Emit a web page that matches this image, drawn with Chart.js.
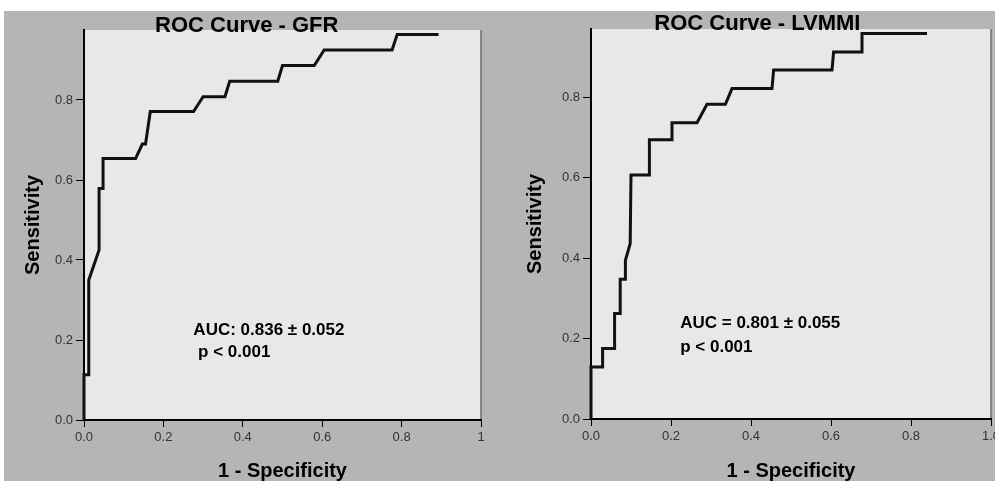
<!DOCTYPE html>
<html>
<head>
<meta charset="utf-8">
<script src="https://cdn.jsdelivr.net/npm/chart.js@4/dist/chart.umd.min.js"></script>
<style>
  html, body { margin: 0; padding: 0; background: #fff; overflow: hidden; }
  #panel { position: absolute; left: 4px; top: 11px; width: 991px; height: 470px; background: #b5b5b5; }
  .box { position: absolute; top: 11px; height: 470px; }
  #boxGfr { left: 4px; width: 491px; }
  #boxLvmmi { left: 495px; width: 500px; }
</style>
</head>
<body>
<div id="panel"></div>
<div class="box" id="boxGfr"><canvas id="gfr"></canvas></div>
<div class="box" id="boxLvmmi"><canvas id="lvmmi"></canvas></div>
<script>
// ROC curve - GFR (1 - specificity, sensitivity)
const gfrFpr = [0, 0, 0.012, 0.012, 0.038, 0.038, 0.048, 0.048, 0.13, 0.147, 0.155, 0.167, 0.276, 0.3, 0.355, 0.367, 0.488, 0.5, 0.58, 0.605, 0.776, 0.789, 0.893];
const gfrTpr = [0, 0.113, 0.113, 0.35, 0.425, 0.579, 0.579, 0.654, 0.654, 0.69, 0.69, 0.771, 0.771, 0.808, 0.808, 0.847, 0.847, 0.886, 0.886, 0.925, 0.925, 0.964, 0.964];

// ROC curve - LVMMI
const lvmmiFpr = [0, 0, 0.029, 0.029, 0.059, 0.059, 0.073, 0.073, 0.086, 0.086, 0.098, 0.1, 0.146, 0.146, 0.2025, 0.2025, 0.265, 0.29, 0.336, 0.3525, 0.4525, 0.4565, 0.6025, 0.6065, 0.6775, 0.6775, 0.84];
const lvmmiTpr = [0, 0.129, 0.129, 0.175, 0.175, 0.262, 0.262, 0.347, 0.347, 0.394, 0.436, 0.606, 0.606, 0.694, 0.694, 0.736, 0.736, 0.782, 0.782, 0.821, 0.821, 0.867, 0.867, 0.912, 0.912, 0.958, 0.958];

const tickValues = [0, 0.2, 0.4, 0.6, 0.8, 1];
const xLabelsGfr = ["0.0", "0.2", "0.4", "0.6", "0.8", "1"];
const xLabelsLvmmi = ["0.0", "0.2", "0.4", "0.6", "0.8", "1.0"];
const yLabels = ["0.0", "0.2", "0.4", "0.6", "0.8"];

const aucGfr = ["AUC: 0.836 \u00b1 0.052", " p < 0.001"];
const aucLvmmi = ["AUC = 0.801 \u00b1 0.055", "p < 0.001"];

Chart.defaults.font.family = "Arial, 'Liberation Sans', sans-serif";

function labelFor(list) {
  return (v) => {
    const i = tickValues.findIndex((t) => Math.abs(t - v) < 1e-6);
    return i >= 0 && i < list.length ? list[i] : "";
  };
}

const panelText = {
  id: "panelText",
  beforeDraw(chart) {
    const { ctx, chartArea: a } = chart;
    ctx.save();
    ctx.fillStyle = "#e8e8e8";
    ctx.fillRect(a.left, a.top, a.right - a.left, a.bottom - a.top);
    ctx.strokeStyle = "#6e6e6e";
    ctx.lineWidth = 1.5;
    ctx.beginPath();
    ctx.moveTo(a.right, a.top);
    ctx.lineTo(a.right, a.bottom);
    ctx.stroke();
    ctx.restore();
  },
  afterDraw(chart, args, opts) {
    const { ctx, chartArea: a } = chart;
    const x = chart.scales.x, y = chart.scales.y;
    ctx.save();
    ctx.fillStyle = "#000";
    ctx.textBaseline = "alphabetic";
    ctx.textAlign = "center";
    ctx.font = "bold 22px Arial, 'Liberation Sans', sans-serif";
    ctx.fillText(opts.title, x.getPixelForValue(opts.titleAt), a.top + opts.titleDy);
    ctx.textAlign = "left";
    ctx.font = "bold 17px Arial, 'Liberation Sans', sans-serif";
    opts.lines.forEach((t, i) => {
      ctx.fillText(t, x.getPixelForValue(opts.textAt[0]), y.getPixelForValue(opts.textAt[1]) + i * opts.gap);
    });
    ctx.restore();
  },
};

function makeChart(id, fpr, tpr, xLabels, yMax, pad, yWidth, xHeight, yTitlePad, text) {
  const ctx = document.getElementById(id).getContext("2d");
  return new Chart(ctx, {
    type: "scatter",
    data: {
      datasets: [
        {
          data: fpr.map((v, i) => ({ x: v, y: tpr[i] })),
          showLine: true,
          borderColor: "#111",
          borderWidth: 3,
          pointRadius: 0,
          tension: 0,
          clip: false,
        },
      ],
    },
    options: {
      responsive: true,
      maintainAspectRatio: false,
      animation: false,
      layout: { padding: pad },
      plugins: {
        legend: { display: false },
        tooltip: { enabled: false },
        panelText: text,
      },
      scales: {
        x: {
          type: "linear",
          min: 0,
          max: 1,
          ticks: { stepSize: 0.2, padding: 3, color: "#333", font: { size: 13 }, callback: labelFor(xLabels), maxRotation: 0, autoSkip: false },
          grid: { drawOnChartArea: false, color: "#000", tickLength: 7 },
          border: { color: "#000", width: 2 },
          title: { display: true, text: "1 - Specificity", color: "#000", font: { size: 20, weight: "bold", lineHeight: 1 }, padding: 0 },
          afterFit(s) {
            s.height = xHeight;
            s.paddingLeft = 0;
            s.paddingRight = 0;
          },
        },
        y: {
          type: "linear",
          min: 0,
          max: yMax,
          ticks: { stepSize: 0.2, includeBounds: false, padding: 3, color: "#333", font: { size: 13 }, callback: labelFor(yLabels) },
          grid: { drawOnChartArea: false, color: "#000", tickLength: 8 },
          border: { color: "#000", width: 2 },
          title: { display: true, text: "Sensitivity", color: "#000", font: { size: 20, weight: "bold", lineHeight: 1.2 }, padding: { top: yTitlePad, bottom: 0 } },
          afterFit(s) {
            s.width = yWidth;
            s.paddingTop = 0;
            s.paddingBottom = 0;
          },
        },
      },
    },
    plugins: [panelText],
  });
}

makeChart("gfr", gfrFpr, gfrTpr, xLabelsGfr, 0.975, { left: 0, right: 14, top: 19, bottom: 0 }, 80, 61, 17,
  { title: "ROC Curve - GFR", titleAt: 0.41, titleDy: 2, lines: aucGfr, textAt: [0.2755, 0.2125], gap: 22 });

makeChart("lvmmi", lvmmiFpr, lvmmiTpr, xLabelsLvmmi, 0.969, { left: 0, right: 4, top: 18, bottom: 0 }, 96, 62, 28,
  { title: "ROC Curve - LVMMI", titleAt: 0.416, titleDy: 1, lines: aucLvmmi, textAt: [0.223, 0.225], gap: 24 });
</script>
</body>
</html>
